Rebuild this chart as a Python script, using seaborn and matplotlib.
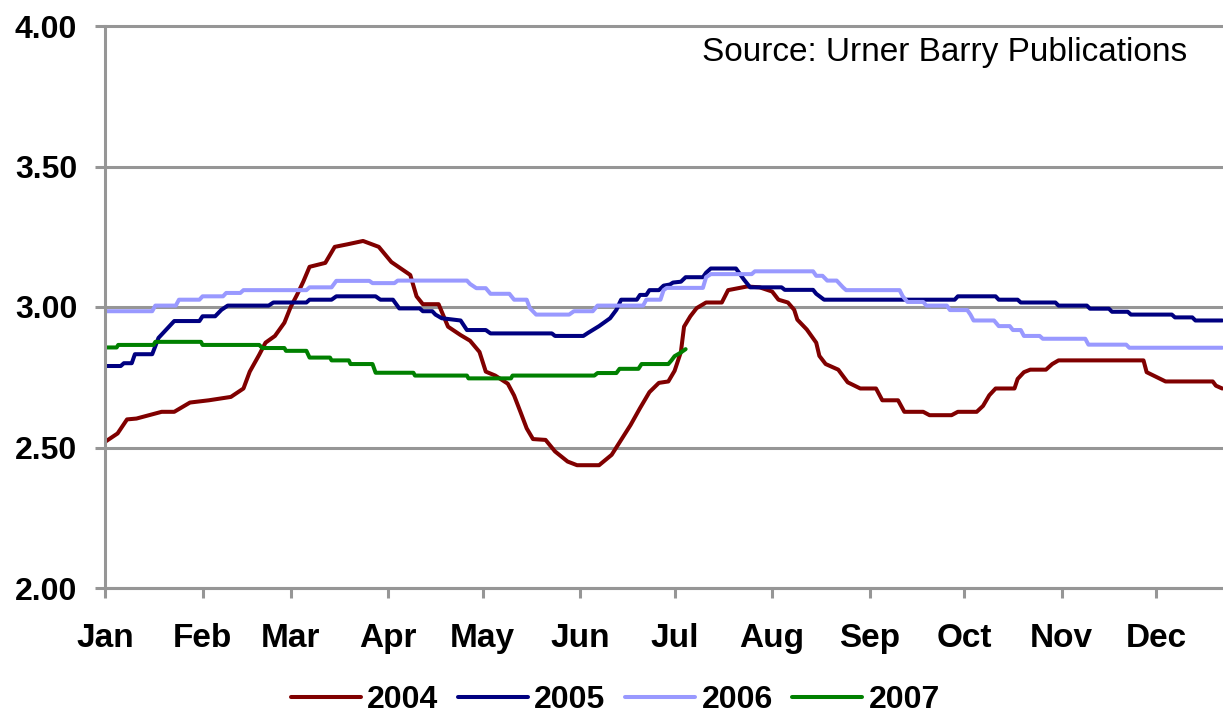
import numpy as np
import pandas as pd
import matplotlib
import matplotlib.pyplot as plt
import seaborn as sns

matplotlib.use('agg')

# day of year (0 = Jan 1) and price
days_2004 = [0, 4, 7, 10, 14, 18, 22, 27, 33, 40, 44, 46, 49, 51, 54, 57, 59, 61, 63, 65,
             70, 73, 77, 82, 87, 91, 94, 97, 99, 101, 106, 109, 113, 116, 119, 121, 124,
             128, 130, 132, 134, 136, 140, 143, 147, 150, 157, 161, 164, 167, 170, 173,
             176, 179, 181, 183, 184, 186, 188, 191, 196, 198, 204, 208, 212, 214, 217,
             219, 220, 223, 226, 227, 229, 233, 236, 240, 245, 247, 252, 254, 260, 262,
             269, 271, 277, 279, 281, 283, 289, 290, 292, 294, 299, 301, 303, 330, 331,
             337, 352, 353, 355]
price_2004 = [2.52, 2.55, 2.60, 2.603, 2.615, 2.627, 2.627, 2.66, 2.668, 2.68, 2.71, 2.77,
              2.83, 2.873, 2.897, 2.944, 3.00, 3.043, 3.09, 3.143, 3.157, 3.214, 3.223,
              3.235, 3.214, 3.16, 3.137, 3.114, 3.038, 3.01, 3.01, 2.93, 2.90, 2.88, 2.84,
              2.77, 2.756, 2.727, 2.685, 2.627, 2.568, 2.53, 2.527, 2.486, 2.45, 2.437,
              2.437, 2.474, 2.527, 2.58, 2.64, 2.697, 2.73, 2.735, 2.773, 2.84, 2.93,
              2.967, 2.996, 3.016, 3.016, 3.06, 3.073, 3.07, 3.055, 3.026, 3.016, 2.99,
              2.955, 2.92, 2.873, 2.826, 2.797, 2.777, 2.732, 2.71, 2.71, 2.668, 2.668,
              2.627, 2.627, 2.615, 2.615, 2.627, 2.627, 2.648, 2.686, 2.71, 2.71, 2.744,
              2.768, 2.777, 2.777, 2.797, 2.81, 2.81, 2.768, 2.735, 2.735, 2.72, 2.71]

days_2005 = [0, 5, 6, 8.5, 9.5, 15, 17, 19, 22, 30, 31, 35, 37, 39, 52, 53.5, 64, 65, 72,
             73.5, 86, 87.5, 91.5, 93.5, 100, 101, 104, 105, 107, 113, 115, 121, 122.5,
             142, 143, 152, 153.5, 157, 160.5, 162.5, 164, 169, 170, 172, 173, 176, 177.5,
             179.5, 180.5, 183, 184.5, 190, 191, 192.5, 200.5, 203, 205, 215, 216, 225,
             226, 228.5, 270, 271, 283, 284, 290, 291, 302, 303, 312, 313, 319, 320, 325,
             326, 339, 340, 345.5, 346.5, 355]
price_2005 = [2.79, 2.79, 2.80, 2.80, 2.832, 2.832, 2.89, 2.914, 2.95, 2.95, 2.967, 2.967,
              2.99, 3.005, 3.005, 3.016, 3.016, 3.026, 3.026, 3.038, 3.038, 3.026, 3.026,
              2.995, 2.995, 2.985, 2.985, 2.973, 2.96, 2.952, 2.918, 2.918, 2.906, 2.906,
              2.897, 2.897, 2.908, 2.932, 2.96, 2.99, 3.026, 3.026, 3.043, 3.043, 3.06,
              3.06, 3.076, 3.08, 3.087, 3.09, 3.106, 3.106, 3.122, 3.137, 3.137, 3.098,
              3.07, 3.07, 3.061, 3.061, 3.047, 3.026, 3.026, 3.038, 3.038, 3.026, 3.026,
              3.016, 3.016, 3.005, 3.005, 2.994, 2.994, 2.983, 2.983, 2.973, 2.973, 2.963,
              2.963, 2.952, 2.952]

days_2006 = [0, 15, 16, 22.5, 23.5, 30, 31, 37.5, 38.5, 43, 44, 64, 65, 72, 73.5, 84, 85,
             92, 93, 115, 116, 118, 121, 122.5, 128.5, 130, 134, 135, 137, 147.5, 149, 155,
             156.5, 171, 172, 176.5, 177.5, 178.5, 190, 191, 192.5, 205.5, 206.5, 225, 226,
             228, 229.5, 232.5, 233.5, 234.5, 235.5, 252.5, 253.5, 255, 260, 261, 267.5,
             268.5, 274, 275, 276, 282.5, 284, 287.5, 288.5, 291, 292, 297, 298, 311.5,
             312.5, 324.5, 325.5, 355]
price_2006 = [2.985, 2.985, 3.005, 3.005, 3.026, 3.026, 3.038, 3.038, 3.05, 3.05, 3.06,
              3.06, 3.07, 3.07, 3.093, 3.093, 3.085, 3.085, 3.094, 3.094, 3.082, 3.067,
              3.067, 3.047, 3.047, 3.026, 3.026, 2.996, 2.973, 2.973, 2.985, 2.985, 3.005,
              3.005, 3.026, 3.026, 3.06, 3.068, 3.068, 3.106, 3.117, 3.117, 3.127, 3.127,
              3.111, 3.111, 3.094, 3.094, 3.082, 3.07, 3.06, 3.06, 3.038, 3.018, 3.018,
              3.005, 3.005, 2.989, 2.989, 2.973, 2.952, 2.952, 2.932, 2.932, 2.918, 2.918,
              2.897, 2.897, 2.887, 2.887, 2.866, 2.866, 2.855, 2.855]

days_2007 = [0, 3.7, 4.2, 15.4, 16, 30.5, 31, 49, 50, 57, 57.5, 64, 65, 71.5, 72, 77.5, 78,
             85, 86, 98, 98.5, 115, 115.5, 129, 129.5, 155.5, 156.5, 162.5, 163.5, 169.5,
             170.5, 179, 180, 181, 182.7, 184.5]
price_2007 = [2.856, 2.856, 2.865, 2.865, 2.876, 2.876, 2.865, 2.865, 2.854, 2.854, 2.844,
              2.844, 2.82, 2.82, 2.81, 2.81, 2.797, 2.797, 2.766, 2.766, 2.756, 2.756,
              2.746, 2.746, 2.756, 2.756, 2.765, 2.765, 2.78, 2.78, 2.797, 2.797, 2.81,
              2.825, 2.836, 2.85]

years = ['2004', '2005', '2006', '2007']
colors = ['#800000', '#000080', '#9999FF', '#008000']
month_starts = [0, 31, 59, 90, 120, 151, 181, 212, 243, 273, 304, 334]
month_names = ['Jan', 'Feb', 'Mar', 'Apr', 'May', 'Jun',
               'Jul', 'Aug', 'Sep', 'Oct', 'Nov', 'Dec']

frames = []
for yr, d, p in zip(years, [days_2004, days_2005, days_2006, days_2007],
                    [price_2004, price_2005, price_2006, price_2007]):
    frames.append(pd.DataFrame({'day': d, 'price': p, 'year': yr}))
df = pd.concat(frames, ignore_index=True)

sns.set_style('white')
plt.rcParams['font.family'] = ['Liberation Sans', 'DejaVu Sans']
plt.rcParams['text.color'] = 'black'
plt.rcParams['xtick.labelcolor'] = 'black'
plt.rcParams['ytick.labelcolor'] = 'black'

grey = '#969696'
fig = plt.figure(figsize=(12.23, 7.18), dpi=100)
ax = fig.add_axes([105 / 1223, 1 - 588 / 718, 1118 / 1223, 562 / 718])

sns.lineplot(data=df, x='day', y='price', hue='year', hue_order=years,
             palette=dict(zip(years, colors)), linewidth=2.9, sort=False,
             errorbar=None, legend=False, ax=ax)

ax.set_xlim(0, 1118 / 3.147)
ax.set_ylim(2.0, 4.0)
ax.set_xticks(month_starts)
ax.set_xticklabels(month_names)
ax.set_yticks([2.0, 2.5, 3.0, 3.5, 4.0])
ax.set_yticklabels(['%.2f' % v for v in [2.0, 2.5, 3.0, 3.5, 4.0]])
ax.set_xlabel('')
ax.set_ylabel('')

for s in ['top', 'right']:
    ax.spines[s].set_visible(False)
for s in ['left', 'bottom']:
    ax.spines[s].set_color(grey)
    ax.spines[s].set_linewidth(2.2)

ax.yaxis.grid(True, color=grey, linewidth=2.2)
ax.xaxis.grid(False)
for gl in ax.get_ygridlines():
    gl.set_clip_on(False)
ax.set_axisbelow(True)

ax.tick_params(axis='x', direction='out', length=7, width=2.2, color=grey,
               pad=18, labelsize=24, labelcolor='black')
ax.tick_params(axis='y', direction='out', length=7, width=2.2, color=grey,
               pad=13, labelsize=23, labelcolor='black')
ax.tick_params(bottom=True, left=True)
for lab in ax.get_xticklabels() + ax.get_yticklabels():
    lab.set_fontweight('bold')

ax.text(0.968, 0.952, 'Source: Urner Barry Publications', transform=ax.transAxes,
        ha='right', va='center', fontsize=24, color='black')

handles = [plt.Line2D([], [], color=c, linewidth=2.9) for c in colors]
leg = fig.legend(handles, years, loc='center', bbox_to_anchor=(0.503, 0.025), ncol=4,
                 frameon=False, handlelength=2.2, handletextpad=0.2, columnspacing=0.6,
                 borderpad=0.1, prop={'weight': 'bold', 'size': 23})
for t in leg.get_texts():
    t.set_color('black')

fig.savefig('out.png', dpi=100)
